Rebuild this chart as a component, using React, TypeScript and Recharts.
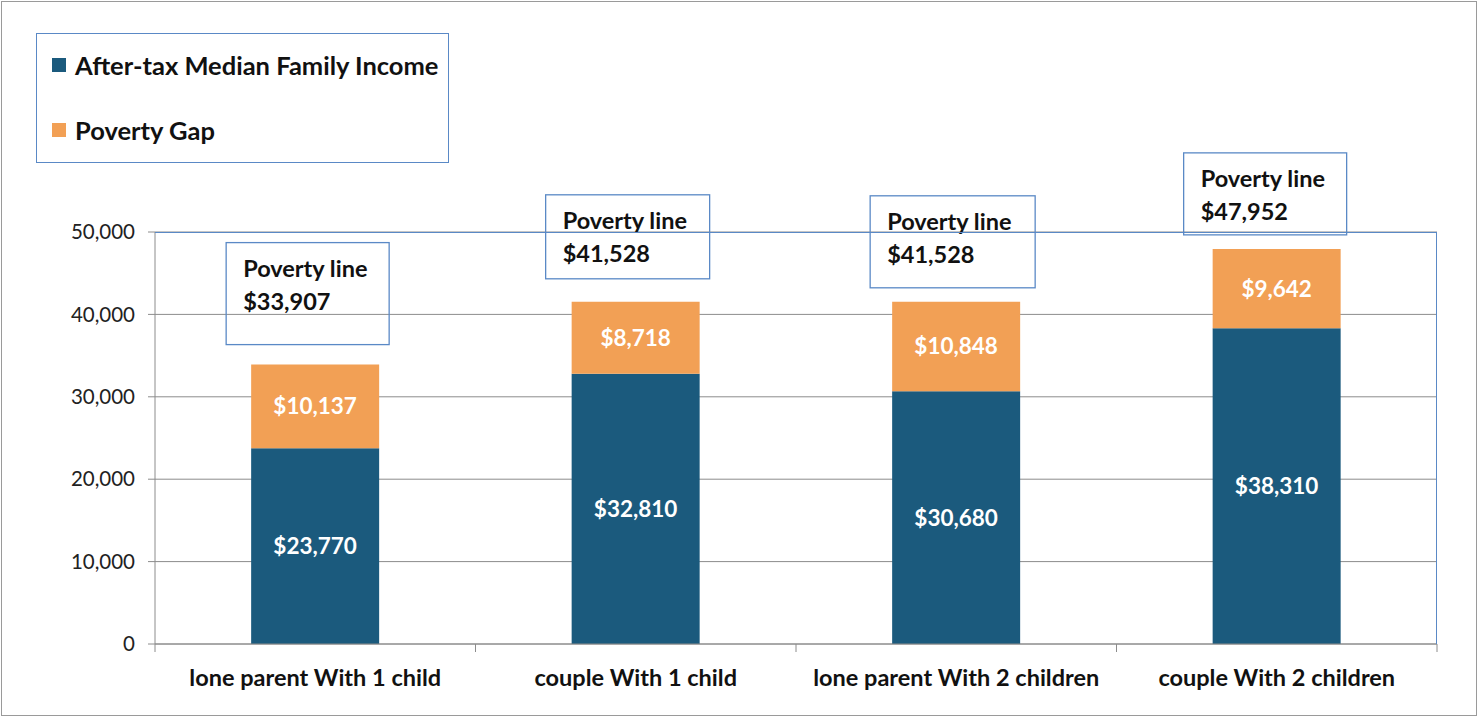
import React from 'react'
import { BarChart, Bar, XAxis, YAxis, CartesianGrid, LabelList } from 'recharts'

const categories = [
  'lone parent With 1 child',
  'couple With 1 child',
  'lone parent With 2 children',
  'couple With 2 children',
]
const medianIncome = [23770, 32810, 30680, 38310]
const povertyGap = [10137, 8718, 10848, 9642]
const yTicks = [0, 10000, 20000, 30000, 40000, 50000]

// callout box placement, relative to the top-left of each stack
const calloutBoxes = [
  { dx: -25, above: 20, w: 163, h: 102 },
  { dx: -26, above: 23, w: 164, h: 84 },
  { dx: -22, above: 14, w: 165, h: 92 },
  { dx: -29, above: 14, w: 163, h: 82 },
]

const DARK = '#1b5a7d'
const ORANGE = '#f2a055'
const FRAME_BLUE = '#5a89c6'
const GRID = '#8c8c8c'
const FONT = 'Lato, "Open Sans", sans-serif'

const data = categories.map((name, i) => ({
  name,
  income: medianIncome[i],
  gap: povertyGap[i],
}))

const money = (v: number) => '$' + Number(v).toLocaleString('en-US')

const XTick = (props: any) => {
  const { x, y, payload, index } = props
  const half = payload?.offset || 160.25
  const axisY = y - 8
  return (
    <g>
      <line x1={x - half} x2={x - half} y1={axisY} y2={axisY + 8} stroke={GRID} />
      {index === categories.length - 1 && (
        <line x1={x + half} x2={x + half} y1={axisY} y2={axisY + 8} stroke={GRID} />
      )}
      <text x={x} y={axisY + 42} textAnchor="middle" fill="#111" fontSize={23.5} fontWeight={700} fontFamily={FONT}>
        {payload.value}
      </text>
    </g>
  )
}

const PovertyCallout = (props: any) => {
  const { x, y, value } = props
  let i = props.index
  if (i === undefined || i === null) i = povertyGap.indexOf(value)
  const box = calloutBoxes[i]
  if (!box) return null
  const left = x + box.dx
  const top = y - box.above - box.h
  const total = medianIncome[i] + povertyGap[i]
  return (
    <g>
      <rect x={left} y={top} width={box.w} height={box.h} fill="#fff" fillOpacity={0} stroke={FRAME_BLUE} strokeWidth={1.3} />
      <text x={left + 17} y={top + 34} fill="#111" fontSize={23.5} fontWeight={700} fontFamily={FONT}>
        Poverty line
      </text>
      <text x={left + 17} y={top + 67} fill="#111" fontSize={23.5} fontWeight={700} fontFamily={FONT}>
        {money(total)}
      </text>
    </g>
  )
}

export default function App() {
  return (
    <div style={{ position: 'absolute', left: 0, top: 0, width: 1478, height: 717, background: '#fff', fontFamily: FONT }}>
      <BarChart
        width={1478}
        height={717}
        data={data}
        margin={{ top: 232, right: 41, bottom: 33, left: 95 }}
        barCategoryGap="30%"
      >
        <CartesianGrid vertical={false} stroke={GRID} />
        <XAxis
          dataKey="name"
          height={40}
          axisLine={{ stroke: GRID }}
          tickLine={false}
          tickSize={8}
          tickMargin={0}
          interval={0}
          tick={<XTick />}
        />
        <YAxis
          width={60}
          domain={[0, 50000]}
          ticks={yTicks}
          axisLine={{ stroke: GRID }}
          tickLine={{ stroke: GRID }}
          tickSize={7}
          tickMargin={13}
          tickFormatter={(v) => Number(v).toLocaleString('en-US')}
          tick={{ fill: '#222', fontSize: 20.5, fontFamily: FONT }}
        />
        <Bar dataKey="income" stackId="a" fill={DARK} isAnimationActive={false}>
          <LabelList
            dataKey="income"
            position="center"
            formatter={(v: any) => money(v)}
            fill="#fff"
            fontSize={22.5}
            fontWeight={700}
            fontFamily={FONT}
          />
        </Bar>
        <Bar dataKey="gap" stackId="a" fill={ORANGE} isAnimationActive={false}>
          <LabelList
            dataKey="gap"
            position="center"
            formatter={(v: any) => money(v)}
            fill="#fff"
            fontSize={22.5}
            fontWeight={700}
            fontFamily={FONT}
          />
          <LabelList dataKey="gap" content={<PovertyCallout />} />
        </Bar>
      </BarChart>

      {/* plot area border (top and right) */}
      <div
        style={{
          position: 'absolute',
          left: 155,
          top: 232,
          width: 1282,
          height: 412,
          borderTop: `1.3px solid ${FRAME_BLUE}`,
          borderRight: `1.3px solid ${FRAME_BLUE}`,
          boxSizing: 'border-box',
          pointerEvents: 'none',
        }}
      />

      {/* legend */}
      <div
        style={{
          position: 'absolute',
          left: 36,
          top: 33,
          width: 413,
          height: 130,
          border: `1.3px solid ${FRAME_BLUE}`,
          boxSizing: 'border-box',
        }}
      >
        {[
          { label: 'After-tax Median Family Income', color: DARK, top: 15 },
          { label: 'Poverty Gap', color: ORANGE, top: 80 },
        ].map((it) => (
          <div key={it.label} style={{ position: 'absolute', left: 15, top: it.top, display: 'flex', alignItems: 'center', whiteSpace: 'nowrap' }}>
            <span style={{ display: 'inline-block', width: 14, height: 14, background: it.color, marginRight: 9 }} />
            <span style={{ fontSize: 25.5, fontWeight: 700, color: '#111', lineHeight: '32px' }}>{it.label}</span>
          </div>
        ))}
      </div>

      {/* outer frame */}
      <div
        style={{
          position: 'absolute',
          left: 1,
          top: 1,
          width: 1476,
          height: 715,
          border: '1.5px solid #9a9a9a',
          boxSizing: 'border-box',
          pointerEvents: 'none',
        }}
      />
    </div>
  )
}
